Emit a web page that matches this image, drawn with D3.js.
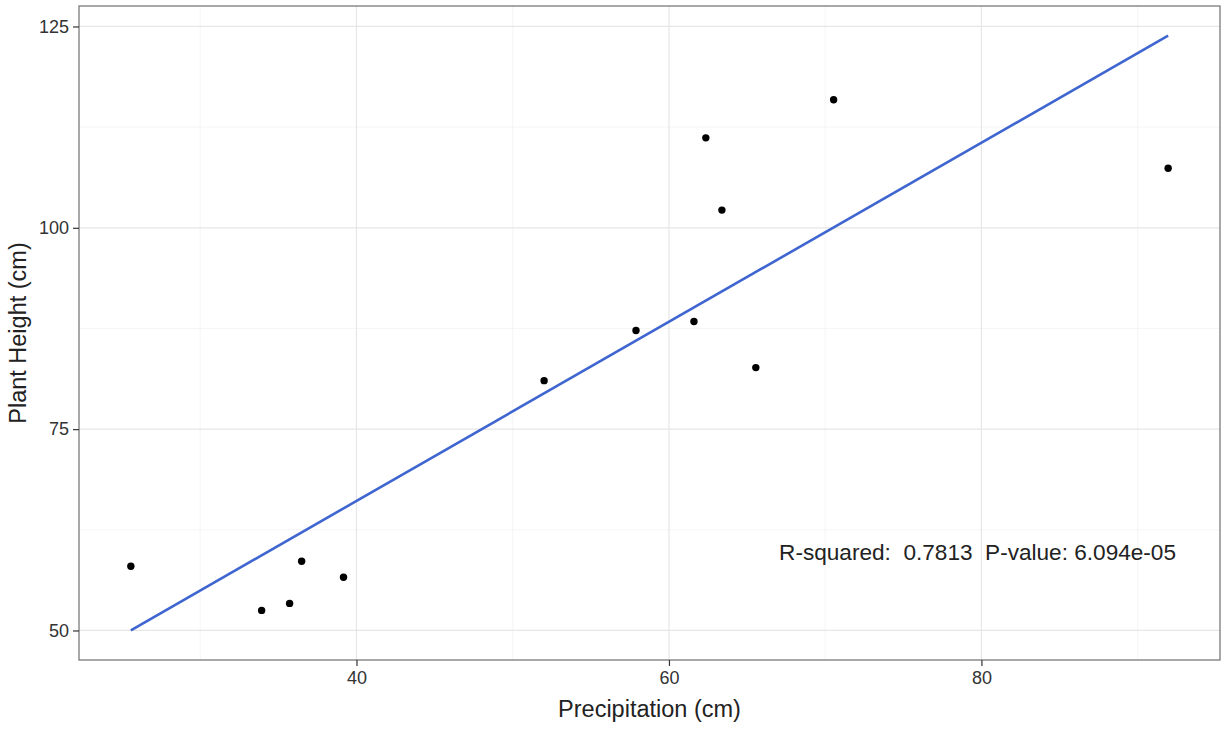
<!DOCTYPE html>
<html>
<head>
<meta charset="utf-8">
<script src="https://cdn.jsdelivr.net/npm/d3@7"></script>
<style>
  html, body { margin: 0; padding: 0; background: #fff; }
  svg { display: block; font-family: "Liberation Sans", Arial, sans-serif; }
</style>
</head>
<body>
<svg id="chart" width="1225" height="729"></svg>
<script>
// Precipitation vs. plant height observations
const precipitation = [25.56, 33.93, 35.72, 36.49, 39.17, 52.01, 57.89, 61.60, 62.36, 63.39, 65.56, 70.54, 91.95];
const plantHeight   = [57.97, 52.49, 53.36, 58.60, 56.60, 81.02, 87.25, 88.37, 111.17, 102.20, 82.64, 115.90, 107.40];

const xTicks = [40, 60, 80];
const xMinorTicks = [30, 50, 70, 90];
const yTicks = [50, 75, 100, 125];
const yMinorTicks = [62.5, 87.5, 112.5];

const xTitle = "Precipitation (cm)";
const yTitle = "Plant Height (cm)";
const statsLabel = "R-squared:  0.7813  P-value: 6.094e-05";

// Ordinary least squares fit of height on precipitation
const n = precipitation.length;
const mx = d3.mean(precipitation), my = d3.mean(plantHeight);
let sxy = 0, sxx = 0;
for (let i = 0; i < n; i++) {
  sxy += (precipitation[i] - mx) * (plantHeight[i] - my);
  sxx += (precipitation[i] - mx) ** 2;
}
const slope = sxy / sxx;
const intercept = my - slope * mx;
const xExt = d3.extent(precipitation);
const fit = xExt.map(x => ({ x, y: intercept + slope * x }));

// Panel geometry
const panel = { left: 79, right: 1220, top: 6, bottom: 660 };

function expand(ext, f = 0.05) {
  const pad = (ext[1] - ext[0]) * f;
  return [ext[0] - pad, ext[1] + pad];
}
const yExt = d3.extent(plantHeight.concat(fit.map(d => d.y)));

const x = d3.scaleLinear().domain(expand(xExt)).range([panel.left, panel.right]);
const y = d3.scaleLinear().domain(expand(yExt)).range([panel.bottom, panel.top]);

const svg = d3.select("#chart");

// Panel background
svg.append("rect")
  .attr("x", panel.left).attr("y", panel.top)
  .attr("width", panel.right - panel.left).attr("height", panel.bottom - panel.top)
  .attr("fill", "#fff");

// Minor grid
const grid = svg.append("g");
grid.selectAll(".vminor").data(xMinorTicks).join("line")
  .attr("x1", d => x(d)).attr("x2", d => x(d))
  .attr("y1", panel.top).attr("y2", panel.bottom)
  .attr("stroke", "#f3f3f3").attr("stroke-width", 0.8);
grid.selectAll(".hminor").data(yMinorTicks).join("line")
  .attr("y1", d => y(d)).attr("y2", d => y(d))
  .attr("x1", panel.left).attr("x2", panel.right)
  .attr("stroke", "#f3f3f3").attr("stroke-width", 0.8);

// Major grid
grid.selectAll(".vmajor").data(xTicks).join("line")
  .attr("x1", d => x(d)).attr("x2", d => x(d))
  .attr("y1", panel.top).attr("y2", panel.bottom)
  .attr("stroke", "#e6e6e6").attr("stroke-width", 1.2);
grid.selectAll(".hmajor").data(yTicks).join("line")
  .attr("y1", d => y(d)).attr("y2", d => y(d))
  .attr("x1", panel.left).attr("x2", panel.right)
  .attr("stroke", "#e6e6e6").attr("stroke-width", 1.2);

// Fitted regression line
const line = d3.line().x(d => x(d.x)).y(d => y(d.y));
svg.append("path")
  .datum(fit)
  .attr("d", line)
  .attr("fill", "none")
  .attr("stroke", "#3f66d0")
  .attr("stroke-width", 2.6);

// Observations
svg.append("g").selectAll("circle")
  .data(d3.range(n))
  .join("circle")
  .attr("cx", i => x(precipitation[i]))
  .attr("cy", i => y(plantHeight[i]))
  .attr("r", 3.7)
  .attr("fill", "#000");

// Statistics annotation
svg.append("text")
  .attr("x", 1176).attr("y", 560)
  .attr("text-anchor", "end")
  .attr("font-size", 22.6)
  .attr("fill", "#222")
  .style("white-space", "pre")
  .text(statsLabel);

// Panel border
svg.append("rect")
  .attr("x", panel.left).attr("y", panel.top)
  .attr("width", panel.right - panel.left).attr("height", panel.bottom - panel.top)
  .attr("fill", "none").attr("stroke", "#7a7a7a").attr("stroke-width", 1.3);

// Axes
const xAxis = d3.axisBottom(x).tickValues(xTicks).tickSize(6).tickPadding(5).tickFormat(d3.format("d"));
const yAxis = d3.axisLeft(y).tickValues(yTicks).tickSize(6).tickPadding(4).tickFormat(d3.format("d"));

const gx = svg.append("g").attr("transform", `translate(0,${panel.bottom})`).call(xAxis);
const gy = svg.append("g").attr("transform", `translate(${panel.left},0)`).call(yAxis);

[gx, gy].forEach(g => {
  g.select(".domain").remove();
  g.selectAll(".tick line").attr("stroke", "#333").attr("stroke-width", 1.2);
  g.selectAll(".tick text")
    .attr("fill", "#333")
    .attr("font-size", 18)
    .attr("font-family", "'Liberation Sans', Arial, sans-serif");
});

// Axis titles
svg.append("text")
  .attr("x", (panel.left + panel.right) / 2).attr("y", 717)
  .attr("text-anchor", "middle")
  .attr("font-size", 23.5)
  .attr("fill", "#222")
  .text(xTitle);

svg.append("text")
  .attr("transform", `translate(26,${(panel.top + panel.bottom) / 2}) rotate(-90)`)
  .attr("text-anchor", "middle")
  .attr("font-size", 23.5)
  .attr("fill", "#222")
  .text(yTitle);
</script>
</body>
</html>
